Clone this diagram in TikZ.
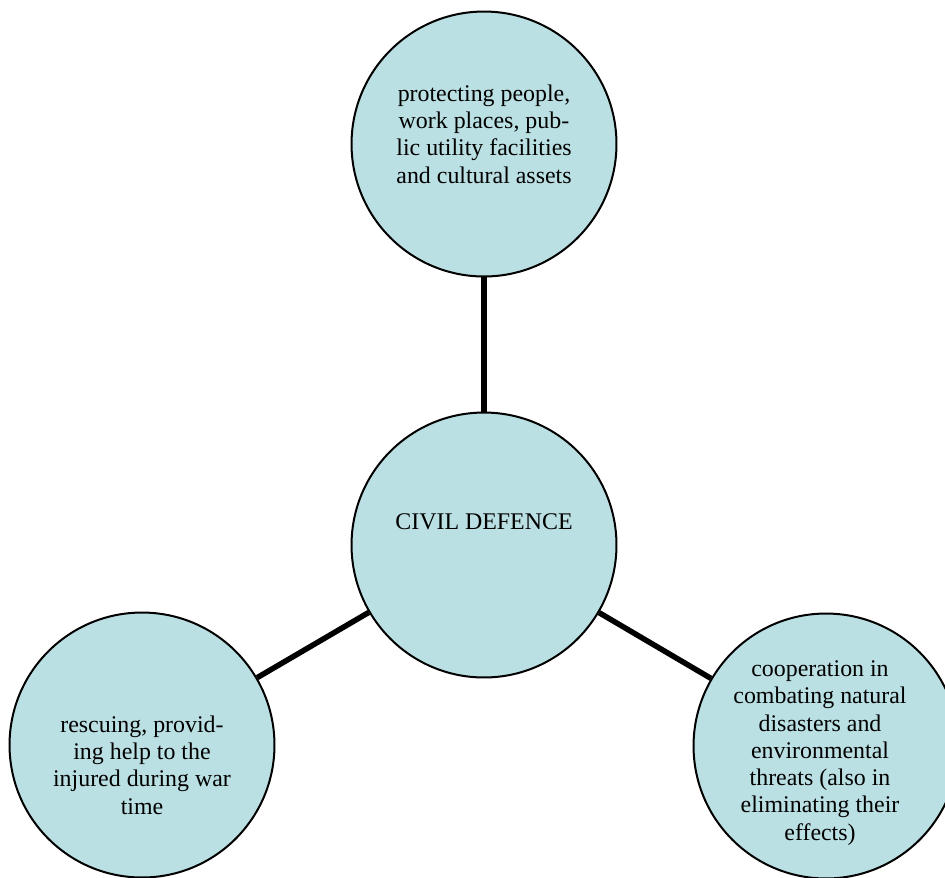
\documentclass[tikz,border=0pt]{standalone}
\usepackage{fontspec}
\setmainfont{Liberation Serif}
\usepackage{xcolor}
\usepackage{tikz}
\usetikzlibrary{positioning,calc}

\definecolor{cdfill}{RGB}{187,224,227}

\tikzset{
    bubble/.style={circle, draw=black, line width=0.04cm, fill=cdfill,
        minimum size=5.3cm, inner sep=0pt},
    bubbletext/.style={align=center, inner sep=0pt,
        font=\fontsize{13.6}{15.5}\selectfont},
    link/.style={line width=0.11cm}
}

\begin{document}
\begin{tikzpicture}[x=0.02cm, y=-0.02cm]
    \useasboundingbox (0,0) rectangle (945,877);
    \clip (0,0) rectangle (945,877);

    % Circles
    \node[bubble] (protect) at (484, 144) {};
    \node[bubble] (civil) at (484, 545) {};
    \node[bubble] (rescue) at (142, 745) {};
    \node[bubble] (combat) at (826, 746) {};

    % Connectors
    \draw[link] (protect) -- (civil);
    \draw[link] (civil) -- (rescue);
    \draw[link] (civil) -- (combat);

    % Texts
    \node[bubbletext] (protecttext) at (484, 134)
        {protecting people,\\work places, pub-\\lic utility facilities\\and cultural assets};
    \node[bubbletext] (civiltext) at (484, 522) {CIVIL DEFENCE};
    \node[bubbletext] (rescuetext) at (142, 765)
        {rescuing, provid-\\ing help to the\\injured during war\\time};
    \node[bubbletext] (combattext) at (820, 753)
        {cooperation in\\combating natural\\disasters and\\environmental\\threats (also in\\eliminating their\\effects)};
\end{tikzpicture}
\end{document}
